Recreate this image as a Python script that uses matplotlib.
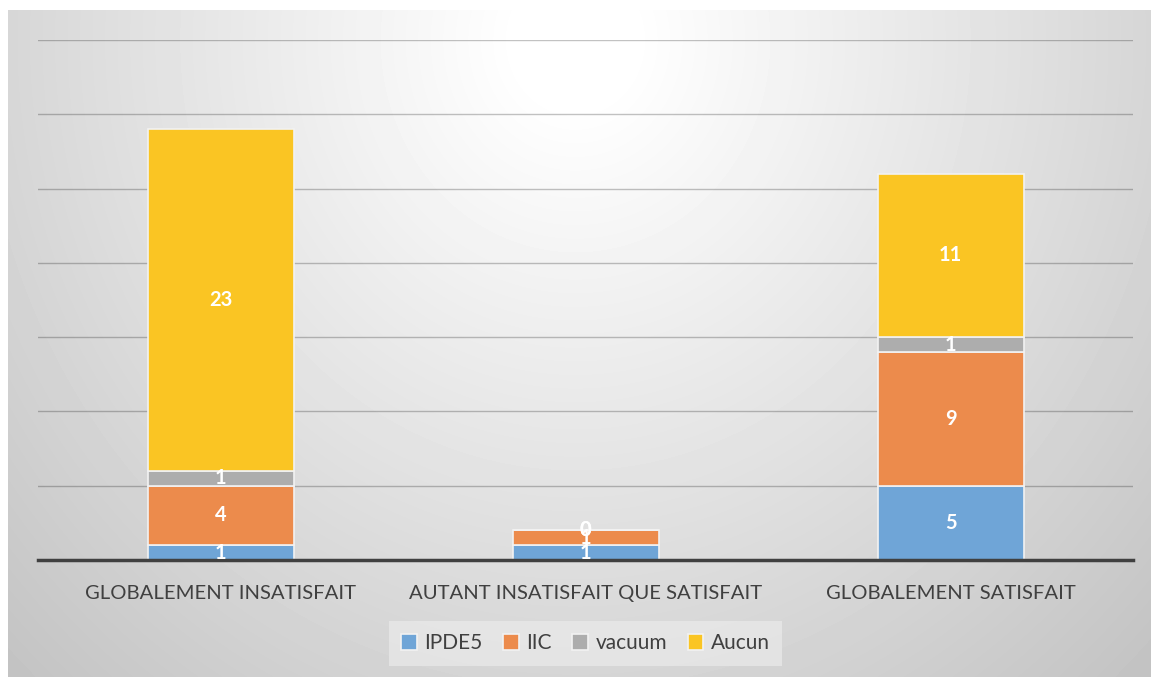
import numpy as np
import matplotlib
matplotlib.use("Agg")
import matplotlib.pyplot as plt

plt.rcParams['font.family'] = ['Lato', 'DejaVu Sans']

categories = ["GLOBALEMENT INSATISFAIT", "AUTANT INSATISFAIT QUE SATISFAIT", "GLOBALEMENT SATISFAIT"]
series_names = ["IPDE5", "IIC", "vacuum", "Aucun"]
ipde5 = [1, 1, 5]
iic = [4, 1, 9]
vacuum = [1, 0, 1]
aucun = [23, 0, 11]
colors = ["#6fa5d7", "#ec8b4c", "#adadad", "#fac523"]

W, H = 1151, 677
fig = plt.figure(figsize=(W / 100, H / 100), dpi=100)
fig.patch.set_facecolor("white")

# soft radial grey background of the chart area
bg = fig.add_axes([8 / W, 0, 1 - 8 / W, 1 - 10 / H])
bg.set_axis_off()
yy, xx = np.mgrid[0:667, 0:1143]
r = np.sqrt(((xx - 567) / 570.0) ** 2 + ((yy - 30) / 620.0) ** 2)
shade = np.clip(1.0 - 0.16 * np.clip(r - 0.1, 0, None) / 0.9, 0.76, 1.0)
bg.imshow(shade, cmap="gray", vmin=0, vmax=1, aspect="auto", interpolation="bilinear")
bg.set_zorder(0)

ax = fig.add_axes([38 / W, 1 - 560 / H, (1133 - 38) / W, (560 - 40) / H])
ax.set_zorder(1)
ax.patch.set_alpha(0)

x = np.arange(len(categories))
bottom = np.zeros(len(categories))
for name, vals, c in zip(series_names, [ipde5, iic, vacuum, aucun], colors):
    vals = np.array(vals, dtype=float)
    ax.bar(x, vals, 0.4, bottom=bottom, color=c, edgecolor="#f2f2f2",
           linewidth=1.2, label=name, zorder=3)
    for xi, b, v in zip(x, bottom, vals):
        ax.text(xi, b + v / 2, f"{int(v)}", ha="center", va="center",
                color="white", fontsize=14.5, fontweight="bold", zorder=5)
    bottom += vals

ax.set_xlim(-0.5, 2.5)
ax.set_ylim(0, 35)
ax.set_yticks(np.arange(0, 36, 5))
ax.yaxis.grid(True, color="black", alpha=0.24, linewidth=1.0, zorder=0)
ax.tick_params(axis="y", left=False, labelleft=False)
ax.tick_params(axis="x", length=0, pad=18, labelsize=14.6, labelcolor="#404040")
ax.set_xticks(x)
ax.set_xticklabels(categories)
for s in ["top", "right", "left"]:
    ax.spines[s].set_visible(False)
ax.spines["bottom"].set_color("#404040")
ax.spines["bottom"].set_linewidth(2.5)
ax.spines["bottom"].set_zorder(4)

leg = ax.legend(loc="center", bbox_to_anchor=(0.5, -0.16), ncol=4, frameon=True,
                fontsize=15, handlelength=0.75, handleheight=0.75, handletextpad=0.35,
                columnspacing=1.0, borderpad=0.6, fancybox=False)
leg.get_frame().set_facecolor("#eeeeee")
leg.get_frame().set_alpha(0.6)
leg.get_frame().set_edgecolor("none")
for t in leg.get_texts():
    t.set_color("#404040")

fig.savefig("out.png", dpi=100)
